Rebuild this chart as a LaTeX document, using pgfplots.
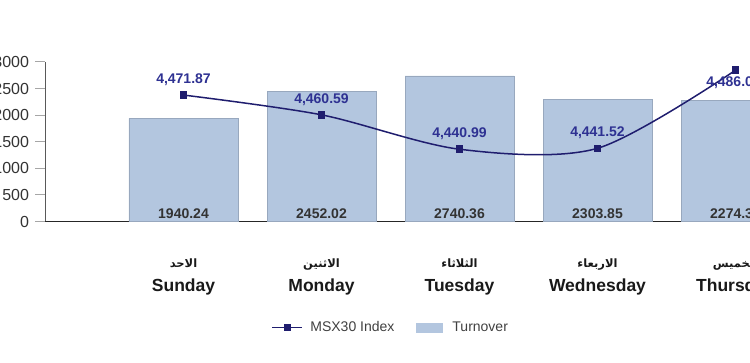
\documentclass[border=0pt]{standalone}
\usepackage{pgfplots}
\pgfplotsset{compat=1.18}
\usepackage{pgfplotstable}
\usepackage{fontspec}
\setmainfont{Liberation Sans}
\newfontfamily\arabicfont[Script=Arabic]{DejaVu Sans}
\TeXXeTstate=1
\definecolor{barcol}{HTML}{B3C6DF}
\definecolor{linecol}{HTML}{1F1D6E}
\definecolor{lblcol}{HTML}{2E3192}
\definecolor{txtcol}{HTML}{333333}

\pgfplotsset{
  mylegline/.style={legend image code/.code={\draw[mark repeat=2,mark phase=2,##1] plot coordinates {(0pt,0pt)(15pt,0pt)(30pt,0pt)};\path[draw=none,fill=none] (0pt,-4pt) rectangle (36pt,4pt);}},
  mylegbar/.style={legend image code/.code={\path[draw=none,fill=barcol] (0pt,-5pt) rectangle (27pt,5pt);\path[draw=none,fill=none] (0pt,-4pt) rectangle (34pt,4pt);}},
}

\pgfplotstableread{
x turnover index
1 1940.24 4471.87
2 2452.02 4460.59
3 2740.36 4440.99
4 2303.85 4441.52
5 2274.31 4486.03
}\data

\newcommand{\ar}[1]{{\arabicfont\bfseries\fontsize{11.5}{13}\selectfont\beginR #1\endR}}

\begin{document}
\begin{tikzpicture}
\begin{axis}[
  at={(45.5pt,140.5pt)}, anchor=south west,
  scale only axis, width=828pt, height=159.5pt,
  xmin=0, xmax=6, ymin=0, ymax=3000,
  axis x line*=bottom, axis y line*=left,
  ytick={0,500,...,3000},
  xtick={1,...,5},
  xticklabels={{\ar{الاحد}\\Sunday},{\ar{الاثنين}\\Monday},{\ar{الثلاثاء}\\Tuesday},{\ar{الاربعاء}\\Wednesday},{\ar{الخميس}\\Thursday}},
  major x tick style={draw=none},
  tick align=outside, major tick length=10pt,
  y tick style={draw=black!35, line width=1pt},
  y axis line style={draw=black!65, line width=1.8pt},
  x axis line style={draw=black!85, line width=1.4pt},
  /pgf/number format/assume math mode=true,
  /pgf/number format/1000 sep={},
  yticklabel style={font=\fontsize{16}{19}\selectfont, text=txtcol, xshift=-3pt},
  xticklabel style={font=\fontsize{17.5}{24}\selectfont\bfseries, text=black!90, align=center, yshift=-24pt},
  clip=false,
]
\addplot[ybar, bar width=109pt, fill=barcol, draw=barcol!85!black, line width=0.4pt] table[x=x,y=turnover]{\data};
\addplot[draw=none, nodes near coords, point meta=explicit symbolic,
  every node near coord/.append style={font=\fontsize{14}{16}\selectfont\bfseries, text=txtcol, anchor=south, yshift=-1pt}]
  table[x=x, y expr=0, meta=turnover]{\data};
\end{axis}
\begin{axis}[
  at={(45.5pt,140.5pt)}, anchor=south west,
  scale only axis, width=828pt, height=159.5pt,
  xmin=0, xmax=6, ymin=4399.8, ymax=4490.7,
  hide axis, clip=false,
  legend style={at={(axis description cs:0.417,-0.665)}, anchor=center, draw=none, fill=none,
    legend columns=2, font=\fontsize{14}{16}\selectfont, text=black!75,
    /tikz/every even column/.append style={column sep=20pt}},
]
\addplot[linecol, line width=1.5pt, smooth, mark=square*, mark size=3pt, mark options={fill=linecol}, mylegline]
  table[x=x,y=index]{\data};
\addlegendentry{MSX30 Index}
\addlegendimage{mylegbar}
\addlegendentry{Turnover}
\addplot[forget plot, draw=none, restrict x to domain=1:4, point meta=y,
  nodes near coords={\pgfmathprintnumber[fixed,fixed zerofill,precision=2,1000 sep={,},assume math mode=true]{\pgfplotspointmeta}},
  every node near coord/.append style={font=\fontsize{14}{16}\selectfont\bfseries, text=lblcol, anchor=south, yshift=6pt}]
  table[x=x,y=index]{\data};
\addplot[forget plot, draw=none, restrict x to domain=5:5, point meta=y,
  nodes near coords={\pgfmathprintnumber[fixed,fixed zerofill,precision=2,1000 sep={,},assume math mode=true]{\pgfplotspointmeta}},
  every node near coord/.append style={font=\fontsize{14}{16}\selectfont\bfseries, text=lblcol, anchor=north, yshift=-3pt, xshift=-2pt}]
  table[x=x,y=index]{\data};
\end{axis}
\pgfresetboundingbox
\useasboundingbox (0,0) rectangle (750pt,362pt);
\end{tikzpicture}
\end{document}
